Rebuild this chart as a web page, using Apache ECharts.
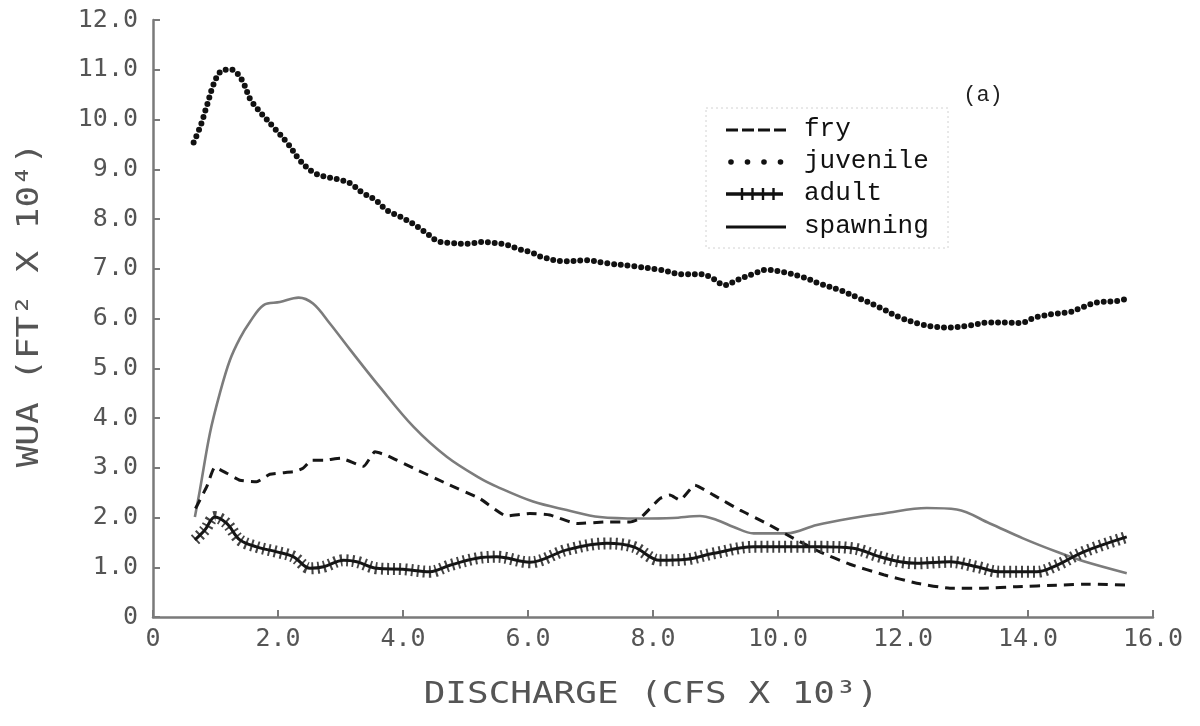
<!DOCTYPE html>
<html>
<head>
<meta charset="utf-8">
<script src="https://cdn.jsdelivr.net/npm/echarts@6/dist/echarts.min.js"></script>
<style>
  html, body { margin: 0; padding: 0; background: #fff; }
  #chart { width: 1200px; height: 726px; }
</style>
</head>
<body>
<div id="chart"></div>
<script>
// Weighted usable area vs. discharge for four life stages
const seriesNames = ['fry', 'juvenile', 'adult', 'spawning'];

const xTicks = [0, 2, 4, 6, 8, 10, 12, 14, 16];
const yTicks = [0, 1, 2, 3, 4, 5, 6, 7, 8, 9, 10, 11, 12];

const fryDischarge = [0.68, 0.86, 0.99, 1.18, 1.39, 1.66, 1.87, 2.25, 2.40, 2.54, 2.73, 3.00, 3.37, 3.55, 3.74, 4.17, 4.70, 5.23, 5.66, 6.03, 6.35, 6.78, 7.26, 7.63, 7.79, 8.11, 8.27, 8.43, 8.67, 8.97, 9.39, 9.82, 10.25, 10.67, 11.15, 11.69, 12.22, 12.75, 13.29, 13.82, 14.46, 14.99, 15.58];
const fryWua = [2.18, 2.62, 3.01, 2.89, 2.75, 2.72, 2.87, 2.92, 2.99, 3.15, 3.15, 3.19, 3.03, 3.32, 3.25, 2.99, 2.68, 2.38, 2.03, 2.08, 2.05, 1.88, 1.91, 1.91, 1.98, 2.38, 2.45, 2.35, 2.65, 2.45, 2.15, 1.88, 1.58, 1.31, 1.06, 0.85, 0.68, 0.58, 0.58, 0.61, 0.64, 0.66, 0.64];

const juvenileDischarge = [0.65, 0.76, 0.86, 0.97, 1.07, 1.16, 1.26, 1.36, 1.46, 1.55, 1.66, 1.77, 1.96, 2.16, 2.35, 2.56, 2.75, 2.95, 3.15, 3.35, 3.55, 3.75, 3.95, 4.15, 4.35, 4.55, 4.75, 5.06, 5.25, 5.46, 5.66, 5.87, 6.07, 6.19, 6.57, 6.94, 7.26, 7.69, 8.11, 8.49, 8.78, 8.96, 9.15, 9.34, 9.61, 9.82, 10.09, 10.40, 10.67, 10.99, 11.31, 11.63, 11.95, 12.27, 12.54, 12.75, 13.07, 13.39, 13.66, 13.87, 14.14, 14.46, 14.67, 14.88, 15.10, 15.42, 15.58];
const juvenileWua = [9.54, 9.87, 10.27, 10.71, 10.95, 11.0, 11.0, 10.91, 10.70, 10.42, 10.23, 10.07, 9.80, 9.51, 9.18, 8.94, 8.85, 8.80, 8.72, 8.53, 8.39, 8.17, 8.05, 7.91, 7.74, 7.56, 7.52, 7.50, 7.54, 7.52, 7.48, 7.39, 7.32, 7.25, 7.15, 7.17, 7.11, 7.05, 6.98, 6.89, 6.89, 6.80, 6.67, 6.77, 6.90, 6.98, 6.93, 6.83, 6.70, 6.57, 6.40, 6.22, 6.02, 5.89, 5.83, 5.82, 5.86, 5.92, 5.92, 5.91, 6.03, 6.10, 6.13, 6.23, 6.32, 6.35, 6.40];

const adultDischarge = [0.67, 0.83, 0.99, 1.18, 1.39, 1.66, 1.98, 2.25, 2.51, 2.73, 3.05, 3.26, 3.58, 4.00, 4.43, 4.75, 5.18, 5.50, 6.03, 6.62, 7.26, 7.69, 8.11, 8.54, 8.97, 9.61, 10.25, 10.67, 11.20, 11.63, 11.95, 12.22, 12.75, 13.18, 13.55, 14.14, 14.46, 14.89, 15.58];
const adultWua = [1.55, 1.75, 2.01, 1.88, 1.55, 1.41, 1.31, 1.21, 0.98, 1.01, 1.14, 1.11, 0.98, 0.96, 0.91, 1.04, 1.18, 1.21, 1.10, 1.35, 1.48, 1.41, 1.14, 1.16, 1.28, 1.41, 1.41, 1.41, 1.38, 1.21, 1.11, 1.08, 1.11, 1.01, 0.91, 0.91, 1.04, 1.31, 1.61];

const spawningDischarge = [0.67, 0.75, 0.91, 1.07, 1.23, 1.39, 1.55, 1.77, 2.03, 2.33, 2.56, 2.83, 3.15, 3.63, 4.17, 4.70, 5.23, 5.50, 6.08, 6.62, 7.15, 7.79, 8.32, 8.75, 9.02, 9.29, 9.61, 10.14, 10.62, 11.15, 11.69, 12.38, 12.86, 13.39, 13.92, 14.46, 14.89, 15.58];
const spawningWua = [2.01, 2.55, 3.69, 4.50, 5.16, 5.60, 5.93, 6.27, 6.33, 6.42, 6.30, 5.90, 5.38, 4.62, 3.82, 3.22, 2.79, 2.62, 2.32, 2.15, 2.01, 1.98, 1.99, 2.03, 1.95, 1.81, 1.68, 1.68, 1.85, 1.98, 2.08, 2.19, 2.16, 1.88, 1.58, 1.31, 1.12, 0.88];

const pairs = (xs, ys) => xs.map((x, i) => [x, ys[i]]);
const tickText = v => (v === 0 ? '0' : v.toFixed(1));

const monoFont = '"DejaVu Sans Mono", "Liberation Mono", monospace';
const legendFont = '"Liberation Mono", "DejaVu Sans Mono", monospace';
const axisGray = '#7a7a7a';
const labelGray = '#555';

const chart = echarts.init(document.getElementById('chart'), null, { renderer: 'canvas' });

// Hand-built key in the upper right
const keyX1 = 726, keyX2 = 786, keyTextX = 804;
const keyRows = [130, 162, 194, 227];
const legendGraphics = [
  { type: 'rect', shape: { x: 706, y: 108, width: 242, height: 140 },
    style: { fill: 'none', stroke: '#d2d2d2', lineWidth: 1, lineDash: [2, 3] }, silent: true },
  // fry: dashed
  { type: 'line', shape: { x1: keyX1, y1: keyRows[0], x2: keyX2, y2: keyRows[0] },
    style: { stroke: '#111', lineWidth: 3, lineDash: [12, 4] } },
  // juvenile: dots
  ...[0, 1, 2, 3].map(i => ({ type: 'circle', shape: { cx: 731 + i * 16.5, cy: keyRows[1], r: 2.8 }, style: { fill: '#111' } })),
  // adult: heavy line crossed by short bars
  { type: 'line', shape: { x1: keyX1, y1: keyRows[2], x2: keyX2 - 3, y2: keyRows[2] },
    style: { stroke: '#111', lineWidth: 3.5 } },
  ...[0, 1, 2, 3].map(i => ({ type: 'line', shape: { x1: 742 + i * 10.5, y1: keyRows[2] - 6, x2: 742 + i * 10.5, y2: keyRows[2] + 6 }, style: { stroke: '#111', lineWidth: 2.4 } })),
  // spawning: solid
  { type: 'line', shape: { x1: keyX1, y1: keyRows[3], x2: keyX2, y2: keyRows[3] },
    style: { stroke: '#111', lineWidth: 3 } },
  ...seriesNames.map((name, i) => ({
    type: 'text', x: keyTextX, y: keyRows[i] - 1,
    style: { text: name, font: '26px ' + legendFont, fill: '#111', textAlign: 'left', align: 'left', textVerticalAlign: 'middle', verticalAlign: 'middle' }
  }))
];

const option = {
  backgroundColor: '#fff',
  animation: false,
  grid: { left: 153, right: 47, top: 20, bottom: 109, containLabel: false },
  xAxis: {
    type: 'value', min: 0, max: 16, interval: 2,
    axisLine: { show: true, onZero: false, lineStyle: { color: axisGray, width: 2.5 } },
    axisTick: { show: true, inside: true, length: 7, lineStyle: { color: axisGray, width: 2 } },
    axisLabel: { show: true, margin: 10, color: labelGray, fontFamily: monoFont, fontSize: 25,
      formatter: v => (xTicks.includes(v) ? tickText(v) : ''), showMinLabel: true, showMaxLabel: true },
    splitLine: { show: false }
  },
  yAxis: {
    type: 'value', min: 0, max: 12, interval: 1,
    axisLine: { show: true, onZero: false, lineStyle: { color: axisGray, width: 2.5 } },
    axisTick: { show: true, inside: true, length: 7, lineStyle: { color: axisGray, width: 2 } },
    axisLabel: { show: true, margin: 15, color: labelGray, fontFamily: monoFont, fontSize: 25,
      formatter: v => (yTicks.includes(v) ? tickText(v) : '') },
    splitLine: { show: false }
  },
  graphic: [
    { type: 'text', x: 30, y: 305, rotation: Math.PI / 2, scaleX: 1.16,
      style: { text: 'WUA (FT² X 10⁴)', font: '31px ' + monoFont, fill: labelGray,
        textAlign: 'center', align: 'center', textVerticalAlign: 'middle', verticalAlign: 'middle' } },
    { type: 'text', x: 651, y: 695, scaleX: 1.16,
      style: { text: 'DISCHARGE (CFS X 10³)', font: '31px ' + monoFont, fill: labelGray,
        textAlign: 'center', align: 'center', textVerticalAlign: 'middle', verticalAlign: 'middle' } },
    { type: 'text', x: 983, y: 95,
      style: { text: '(a)', font: '22px ' + legendFont, fill: '#222',
        textAlign: 'center', align: 'center', textVerticalAlign: 'middle', verticalAlign: 'middle' } },
    ...legendGraphics
  ],
  series: [
    {
      name: 'spawning', type: 'line', data: pairs(spawningDischarge, spawningWua),
      showSymbol: false, symbol: 'none', smooth: 0.35, z: 2,
      lineStyle: { color: '#7c7c7c', width: 2.6 }
    },
    {
      name: 'juvenile', type: 'line', data: pairs(juvenileDischarge, juvenileWua),
      showSymbol: false, symbol: 'none', smooth: 0.35, z: 3,
      lineStyle: { color: '#111', width: 6, type: [0, 6.8], cap: 'round' }
    },
    {
      name: 'fry', type: 'line', data: pairs(fryDischarge, fryWua),
      showSymbol: false, symbol: 'none', smooth: 0.15, z: 4,
      lineStyle: { color: '#161616', width: 3, type: [10, 7] }
    },
    {
      // cross-hatching for the adult curve
      name: 'adult', type: 'line', data: pairs(adultDischarge, adultWua),
      showSymbol: false, symbol: 'none', smooth: 0.35, z: 5,
      lineStyle: { color: '#444', width: 12, type: [2, 4], cap: 'butt' }
    },
    {
      name: 'adult', type: 'line', data: pairs(adultDischarge, adultWua),
      showSymbol: false, symbol: 'none', smooth: 0.35, z: 6,
      lineStyle: { color: '#151515', width: 3 }
    }
  ]
};

chart.setOption(option);
</script>
</body>
</html>
